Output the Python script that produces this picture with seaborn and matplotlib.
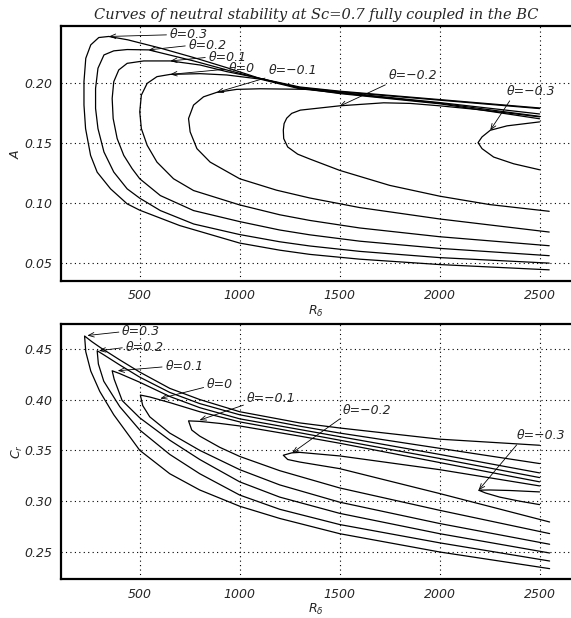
import matplotlib
matplotlib.use("Agg")
import matplotlib.pyplot as plt
import pandas as pd
import seaborn as sns

# ── 数据：上图 A(R) ──────────────────────────────────────────────
THETAS = ["0.3", "0.2", "0.1", "0", "-0.1", "-0.2", "-0.3"]

R_top_p03 = [2500, 2000, 1500, 1300, 1100, 935, 770, 605, 440, 345, 295, 255, 230, 221, 221, 229, 254, 287, 354, 437, 500, 700, 1000, 1200, 1350, 1600, 2000, 2548]
A_top_p03 = [0.1795, 0.1865, 0.1935, 0.1970, 0.2042, 0.2131, 0.2215, 0.2293, 0.2363, 0.2391, 0.2382, 0.2321, 0.2209, 0.2014, 0.1819, 0.1623, 0.1400, 0.1260, 0.1121, 0.0996, 0.0943, 0.0815, 0.0669, 0.0610, 0.0575, 0.0535, 0.0490, 0.0446]

R_top_p02 = [2500, 2000, 1500, 1300, 1100, 935, 770, 545, 437, 370, 321, 291, 279, 279, 291, 321, 370, 437, 500, 603, 770, 1000, 1200, 1350, 1600, 2000, 2548]
A_top_p02 = [0.1790, 0.1860, 0.1930, 0.1965, 0.2040, 0.2112, 0.2187, 0.2279, 0.2282, 0.2271, 0.2237, 0.2126, 0.1958, 0.1791, 0.1623, 0.1428, 0.1261, 0.1121, 0.1043, 0.0940, 0.0828, 0.0740, 0.0680, 0.0645, 0.0600, 0.0548, 0.0502]

R_top_p01 = [2500, 2000, 1500, 1300, 1101, 935, 802, 653, 520, 437, 395, 370, 362, 367, 387, 420, 462, 500, 603, 769, 1000, 1200, 1350, 1600, 2000, 2548]
A_top_p01 = [0.1745, 0.1840, 0.1925, 0.1960, 0.2042, 0.2098, 0.2153, 0.2187, 0.2187, 0.2167, 0.2112, 0.2014, 0.1874, 0.1707, 0.1540, 0.1400, 0.1289, 0.1205, 0.1065, 0.0940, 0.0848, 0.0778, 0.0738, 0.0685, 0.0625, 0.0564]

R_top_0 = [2500, 2000, 1500, 1300, 1101, 935, 802, 653, 586, 537, 508, 500, 508, 537, 586, 669, 769, 1000, 1200, 1350, 1600, 2000, 2548]
A_top_0 = [0.1725, 0.1835, 0.1920, 0.1955, 0.2036, 0.2070, 0.2081, 0.2075, 0.2056, 0.2000, 0.1902, 0.1763, 0.1623, 0.1484, 0.1344, 0.1205, 0.1107, 0.0987, 0.0905, 0.0858, 0.0795, 0.0722, 0.0647]

R_top_m01 = [2500, 2000, 1500, 1350, 1101, 985, 885, 819, 769, 744, 752, 786, 852, 1000, 1184, 1350, 1600, 2000, 2548]
A_top_m01 = [0.1705, 0.1830, 0.1915, 0.1950, 0.1955, 0.1950, 0.1925, 0.1888, 0.1819, 0.1707, 0.1596, 0.1456, 0.1344, 0.1205, 0.1110, 0.1045, 0.0965, 0.0870, 0.0761]

R_top_m02 = [2500, 2220, 2000, 1853, 1720, 1500, 1303, 1260, 1235, 1222, 1218, 1220, 1240, 1290, 1350, 1500, 1750, 2000, 2250, 2548]
A_top_m02 = [0.1721, 0.1777, 0.1813, 0.1833, 0.1838, 0.1813, 0.1777, 0.1750, 0.1710, 0.1665, 0.1610, 0.1540, 0.1470, 0.1410, 0.1370, 0.1275, 0.1150, 0.1060, 0.0990, 0.0934]

R_top_m03 = [2500, 2337, 2253, 2212, 2192, 2212, 2270, 2370, 2500]
A_top_m03 = [0.1679, 0.1646, 0.1609, 0.1554, 0.1506, 0.1456, 0.1386, 0.1330, 0.1280]

# ── 数据：下图 Cr(R) ─────────────────────────────────────────────
R_bot_p03 = [2500, 2000, 1500, 1300, 1000, 800, 650, 500, 400, 304, 260, 224, 230, 255, 300, 370, 500, 650, 800, 1000, 1200, 1500, 2000, 2550]
C_bot_p03 = [0.355, 0.361, 0.372, 0.377, 0.388, 0.400, 0.411, 0.427, 0.439, 0.451, 0.457, 0.4625, 0.447, 0.428, 0.408, 0.385, 0.350, 0.327, 0.311, 0.295, 0.283, 0.268, 0.250, 0.2336]

R_bot_p02 = [2500, 2000, 1500, 1300, 1000, 800, 650, 500, 400, 320, 287, 293, 320, 400, 500, 650, 800, 1000, 1200, 1500, 2000, 2550]
C_bot_p02 = [0.337, 0.352, 0.367, 0.3738, 0.385, 0.396, 0.407, 0.422, 0.434, 0.444, 0.448, 0.435, 0.418, 0.393, 0.370, 0.346, 0.327, 0.306, 0.292, 0.277, 0.259, 0.2411]

R_bot_p01 = [2500, 2000, 1500, 1300, 1000, 800, 650, 500, 400, 362, 372, 412, 500, 650, 800, 1000, 1200, 1500, 2000, 2550]
C_bot_p01 = [0.3278, 0.346, 0.3635, 0.3705, 0.381, 0.392, 0.403, 0.417, 0.4255, 0.4283, 0.420, 0.399, 0.382, 0.360, 0.341, 0.319, 0.304, 0.288, 0.268, 0.249]

R_bot_0 = [2500, 2000, 1500, 1300, 1000, 800, 650, 550, 503, 515, 550, 650, 800, 1000, 1200, 1500, 2000, 2550]
C_bot_0 = [0.3232, 0.342, 0.360, 0.3673, 0.378, 0.388, 0.397, 0.4025, 0.4044, 0.394, 0.383, 0.367, 0.350, 0.331, 0.316, 0.299, 0.278, 0.2576]

R_bot_m01 = [2500, 2000, 1500, 1300, 1000, 900, 800, 744, 760, 800, 900, 1000, 1200, 1500, 2000, 2550]
C_bot_m01 = [0.319, 0.338, 0.357, 0.364, 0.374, 0.3765, 0.3785, 0.379, 0.370, 0.364, 0.353, 0.344, 0.330, 0.313, 0.291, 0.2681]

R_bot_m02 = [2500, 2000, 1500, 1300, 1260, 1218, 1240, 1300, 1500, 2000, 2550]
C_bot_m02 = [0.315, 0.331, 0.3445, 0.348, 0.3475, 0.3452, 0.341, 0.3385, 0.332, 0.3075, 0.2795]

R_bot_m03 = [2500, 2350, 2250, 2195, 2230, 2300, 2400, 2500]
C_bot_m03 = [0.3091, 0.3105, 0.311, 0.3108, 0.308, 0.304, 0.300, 0.2966]

# ── 标注：文字位置 / 箭头指向（数据坐标） ───────────────────────
LABEL_TOP_TEXT = [(650, 0.2405), (744, 0.2315), (844, 0.2218), (943, 0.2120), (1143, 0.2106), (1745, 0.2064), (2337, 0.1936)]
LABEL_TOP_TIP = [(346, 0.2391), (545, 0.2279), (653, 0.2187), (653, 0.2075), (885, 0.1925), (1500, 0.1810), (2253, 0.1609)]
LABEL_BOT_TEXT = [(412, 0.4667), (429, 0.4513), (628, 0.4323), (836, 0.4152), (1035, 0.4007), (1517, 0.3896), (2387, 0.3650)]
LABEL_BOT_TIP = [(238, 0.4630), (296, 0.4480), (390, 0.4283), (603, 0.4010), (799, 0.3797), (1262, 0.3474), (2195, 0.3108)]
RELPOS_TOP = [(0, 0.5), (0, 0.5), (0, 0.5), (0, 0.5), (0, 0.0), (0.05, 0.0), (0.1, 0.0)]
RELPOS_BOT = [(0, 0.5), (0, 0.5), (0, 0.5), (0, 0.3), (0, 0.1), (0, 0.0), (0.05, 0.0)]

TOP_CURVES = [(R_top_p03, A_top_p03), (R_top_p02, A_top_p02), (R_top_p01, A_top_p01), (R_top_0, A_top_0),
              (R_top_m01, A_top_m01), (R_top_m02, A_top_m02), (R_top_m03, A_top_m03)]
BOT_CURVES = [(R_bot_p03, C_bot_p03), (R_bot_p02, C_bot_p02), (R_bot_p01, C_bot_p01), (R_bot_0, C_bot_0),
              (R_bot_m01, C_bot_m01), (R_bot_m02, C_bot_m02), (R_bot_m03, C_bot_m03)]


def _to_frame(curves, col):
    parts = []
    for theta, (r, v) in zip(THETAS, curves):
        parts.append(pd.DataFrame({"R": r, col: v, "theta": theta, "idx": range(len(r))}))
    return pd.concat(parts, ignore_index=True)


def _label(theta):
    return "θ=" + theta.replace("-", "−")


def _style_axes(ax, yticks, ylim):
    ax.set_xlim(106, 2657)
    ax.set_ylim(*ylim)
    ax.set_xticks([500, 1000, 1500, 2000, 2500])
    ax.set_yticks(yticks)
    ax.set_yticklabels([f"{t:.2f}" for t in yticks])
    ax.grid(True, color="black", linestyle=(0, (1, 3)), linewidth=0.8)
    for side in ("left", "top", "bottom"):
        ax.spines[side].set_linewidth(1.6)
        ax.spines[side].set_color("black")
    ax.spines["right"].set_visible(False)
    ax.tick_params(direction="in", length=3, width=0.8, labelsize=9, pad=6)
    for lab in ax.get_xticklabels() + ax.get_yticklabels():
        lab.set_fontstyle("italic")


def _annotate(ax, texts, tips, relpos):
    for theta, (tx, ty), (px, py), rp in zip(THETAS, texts, tips, relpos):
        ax.annotate(
            _label(theta), xy=(px, py), xytext=(tx, ty),
            ha="left", va="center", fontsize=9, fontstyle="italic",
            arrowprops=dict(arrowstyle="->,head_length=0.45,head_width=0.18",
                            lw=0.6, color="black", shrinkA=0, shrinkB=0, relpos=rp),
        )


sns.set_style("white")
plt.rcParams["font.family"] = ["DejaVu Sans"]
plt.rcParams["mathtext.fontset"] = "dejavusans"

fig = plt.figure(figsize=(5.71, 6.18), dpi=100)
ax1 = fig.add_axes([0.1068, 0.5453, 0.8932, 0.4126])
ax2 = fig.add_axes([0.1068, 0.0626, 0.8932, 0.4131])

df_top = _to_frame(TOP_CURVES, "A")
df_bot = _to_frame(BOT_CURVES, "Cr")

sns.lineplot(data=df_top, x="R", y="A", units="theta", estimator=None, sort=False,
             color="black", linewidth=0.9, ax=ax1, legend=False)
sns.lineplot(data=df_bot, x="R", y="Cr", units="theta", estimator=None, sort=False,
             color="black", linewidth=0.9, ax=ax2, legend=False)

_style_axes(ax1, [0.05, 0.10, 0.15, 0.20], (0.0353, 0.2478))
_style_axes(ax2, [0.25, 0.30, 0.35, 0.40, 0.45], (0.2231, 0.4743))

_annotate(ax1, LABEL_TOP_TEXT, LABEL_TOP_TIP, RELPOS_TOP)
_annotate(ax2, LABEL_BOT_TEXT, LABEL_BOT_TIP, RELPOS_BOT)

ax1.set_title("Curves of neutral stability at Sc=0.7 fully coupled in the BC",
              fontsize=10.5, fontstyle="italic", family="DejaVu Serif", pad=5)
ax1.set_xlabel(r"$R_\delta$", fontsize=9, labelpad=1)
ax1.set_ylabel("$A$", fontsize=9, labelpad=2)
ax2.set_xlabel(r"$R_\delta$", fontsize=9, labelpad=1)
ax2.set_ylabel("$C_r$", fontsize=9, labelpad=0)

fig.savefig("out.png", dpi=100, facecolor="white")
